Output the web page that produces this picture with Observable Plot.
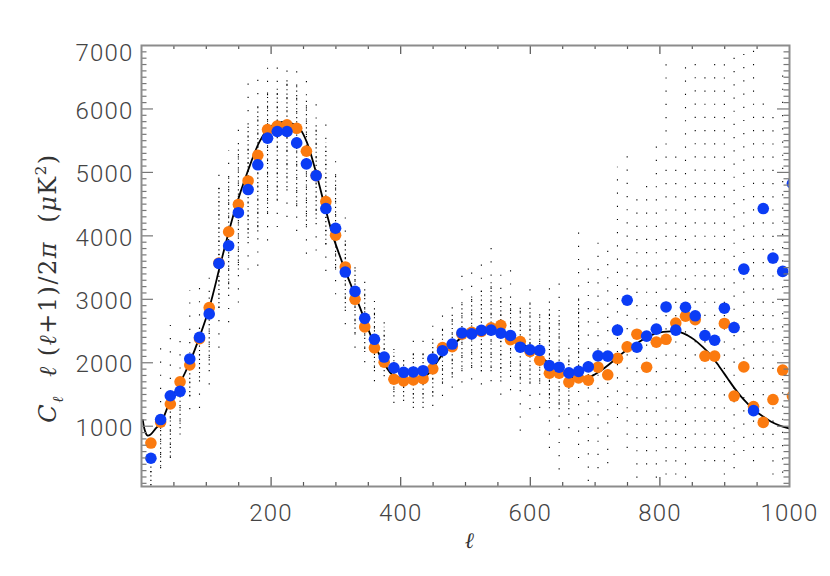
<!DOCTYPE html>
<html><head><meta charset="utf-8">
<script src="https://cdn.jsdelivr.net/npm/d3@7"></script>
<script src="https://cdn.jsdelivr.net/npm/@observablehq/plot@0.6"></script>
<style>body{margin:0;background:#fff} svg{display:block}</style>
</head><body><div id="chart"></div>
<script>
// Bin centres (multipole ℓ)
const ells = [14.5,29.5,44.5,59.5,74.5,89.5,104.5,119.5,134.5,149.5,164.5,179.5,194.5,209.5,224.5,239.5,254.5,269.5,284.5,299.5,314.5,329.5,344.5,359.5,374.5,389.5,404.5,419.5,434.5,449.5,464.5,479.5,494.5,509.5,524.5,539.5,554.5,569.5,584.5,599.5,614.5,629.5,644.5,659.5,674.5,689.5,704.5,719.5,734.5,749.5,764.5,779.5,794.5,809.5,824.5,839.5,854.5,869.5,884.5,899.5,914.5,929.5,944.5,959.5,974.5,989.5,1004.5];
// Blue binned spectrum
const blueVals = [495,1105,1480,1550,2060,2400,2770,3565,3845,4365,
  4730,5120,5540,5645,5645,5465,5135,4950,4430,4120,
  3430,3125,2700,2370,2090,1920,1850,1855,1875,2060,
  2190,2295,2470,2455,2510,2515,2465,2430,2245,2205,
  2195,1955,1930,1840,1865,1935,2110,2105,2515,2985,
  2245,2420,2530,2880,2515,2875,2740,2430,2355,2860,
  2555,3475,1245,4430,3650,3440,4825];
// Orange binned spectrum
const orangeVals = [735,1065,1350,1700,1965,2380,2870,3570,4065,4495,
  4865,5270,5675,5730,5750,5695,5335,4950,4540,4010,
  3510,3000,2565,2235,2010,1740,1715,1730,1750,1905,
  2240,2255,2450,2480,2495,2550,2590,2365,2335,2180,
  2040,1835,1835,1695,1760,1725,1930,1810,2070,2250,
  2450,1930,2325,2370,2625,2735,2680,2105,2105,2620,
  1475,1935,1310,1060,1420,1885,1475];
// Model curve
const curveL = [2,5,9,14,22,30,44,60,75,90,105,121,132,145,163,182,197,210,222,235,245,255,268,282,296,312,325,336,351,366,387,400,418,430,441,464,480,495,510,526,536,550,567,583,598,613,629,645,660,675,688,700,714,727,739,752,765,780,796,816,832,843,853,866,878,891,904,915,925,935,945,958,971,985,999];
const curveV = [1100,940,855,870,965,1055,1390,1690,2020,2420,2880,3520,3960,4440,4990,5480,5705,5775,5795,5760,5680,5480,5050,4500,3980,3520,3180,2900,2500,2150,1810,1760,1745,1765,1810,2125,2280,2400,2465,2495,2505,2480,2415,2330,2230,2110,1995,1880,1785,1750,1760,1820,1915,2020,2125,2225,2310,2400,2470,2495,2480,2430,2365,2250,2125,1950,1760,1600,1470,1360,1260,1160,1075,1010,965];
// Scatter of individual measurements per bin: full extent and dense core
const sparseLo = [60,330,490,860,1260,1280,1650,2230,2630,2940,3460,3520,3920,4130,4290,4070,3710,3760,3440,3070,2600,2230,2000,1700,1780,1360,1390,1280,1280,1310,1470,1600,1680,1730,1650,1700,1490,1560,920,1260,1280,650,310,960,490,130,330,410,1120,650,180,390,180,230,230,180,650,440,440,230,330,600,440,650,230,260,260];
const sparseHi = [860,2290,2630,2510,3140,3340,3390,5050,5340,5810,6580,6550,6710,6760,6710,6760,6550,6100,5870,5340,4340,3660,3360,3130,2730,2360,2180,2440,2360,2650,2790,2890,3440,3470,3600,3900,3420,3570,2940,3340,2940,3310,3240,2340,4210,3600,3970,3890,5080,5290,4660,4820,5500,6860,5290,6710,6760,6600,6890,6860,6920,6940,6920,6260,6020,6660,4960];
const denseLo = [60,360,510,960,1460,1760,1960,2860,3160,3460,3960,4060,4360,4560,4760,4460,4160,4260,3860,3460,2860,2460,2160,1860,1860,1460,1460,1360,1360,1460,1660,1760,1860,1910,1860,1860,1760,1860,1660,1660,1660,1360,1260,1260,1860];
const denseHi = [560,1110,1310,1660,2160,2560,3060,4760,4960,5360,5760,6060,6260,6360,6460,6360,6160,5760,5460,4960,3960,3460,3160,2860,2560,2160,2060,2160,2160,2360,2560,2760,2960,3060,3160,3260,3060,2960,2860,2960,2760,2860,2760,2160,3020];
// Axis ticks
const xLabels = [200,400,600,800,1000];
const xMajor = [200,400,600,800];
const xMinor = [50,100,150,250,300,350,450,500,550,650,700,750,850,900,950];
const yLabels = [1000,2000,3000,4000,5000,6000,7000];
const yMajor = [1000,2000,3000,4000,5000,6000];
const yMinor = [100,200,300,400,500,600,700,800,900,1100,1200,1300,1400,1500,1600,1700,1800,1900,2100,2200,2300,2400,2500,2600,2700,2800,2900,3100,3200,3300,3400,3500,3600,3700,3800,3900,4100,4200,4300,4400,4500,4600,4700,4800,4900,5100,5200,5300,5400,5500,5600,5700,5800,5900,6100,6200,6300,6400,6500,6600,6700,6800,6900];

const W = 830, H = 576, mL = 141, mR = 41, mT = 45, mB = 90;
const pw = W - mL - mR, ph = H - mT - mB;
const binned = ells.map((l, i) => ({l, b: blueVals[i], o: orangeVals[i]}));
const curve = curveL.map((l, i) => ({l, v: curveV[i]}));
const cols = ells.map((l, i) => ({l, slo: sparseLo[i], shi: sparseHi[i], dlo: denseLo[i], dhi: denseHi[i]}));
const dense = cols.filter(d => d.dlo != null);
const font = "Roboto, 'Open Sans', sans-serif";
const tickCol = "#555";
const lab = {fontSize: 24, fontWeight: 300, fill: "#444"};

const plot = Plot.plot({
  width: W, height: H,
  marginLeft: mL, marginRight: mR, marginTop: mT, marginBottom: mB,
  x: {domain: [0, 1000], axis: null},
  y: {domain: [50, 7000], axis: null},
  style: {fontFamily: font, background: "white", overflow: "visible", letterSpacing: "1.2px"},
  marks: [
    Plot.ruleX(cols, {x: "l", y1: "slo", y2: "shi", stroke: "black", strokeWidth: 1.1, strokeDasharray: "1.2,12", clip: true}),
    Plot.ruleX(dense, {x: "l", y1: "dlo", y2: "dhi", stroke: "black", strokeWidth: 1.1, strokeDasharray: "1.2,3.2", clip: true}),
    Plot.line(curve, {x: "l", y: "v", curve: "catmull-rom", stroke: "black", strokeWidth: 1.8}),
    Plot.dot(binned, {x: "l", y: "o", r: 5.8, fill: "#fb7a0f", clip: true}),
    Plot.dot(binned, {x: "l", y: "b", r: 5.8, fill: "#0b3cf5", clip: true}),
    // ticks (inward, mirrored)
    Plot.tickX(xMajor, {x: d => d, insetTop: ph - 9, stroke: tickCol, strokeWidth: 1.2}),
    Plot.tickX(xMinor, {x: d => d, insetTop: ph - 4, stroke: tickCol, strokeWidth: 1.2}),
    Plot.tickX(xMajor, {x: d => d, insetBottom: ph - 9, stroke: tickCol, strokeWidth: 1.2}),
    Plot.tickX(xMinor, {x: d => d, insetBottom: ph - 4, stroke: tickCol, strokeWidth: 1.2}),
    Plot.tickY(yMajor, {y: d => d, insetRight: pw - 12, stroke: "#777", strokeWidth: 1.2}),
    Plot.tickY(yMinor, {y: d => d, insetRight: pw - 5.5, stroke: "#777", strokeWidth: 1.2}),
    Plot.tickY(yMajor, {y: d => d, insetLeft: pw - 12, stroke: "#777", strokeWidth: 1.2}),
    Plot.tickY(yMinor, {y: d => d, insetLeft: pw - 5.5, stroke: "#777", strokeWidth: 1.2}),
    Plot.frame({stroke: "#8c8c8c", strokeWidth: 2}),
    // tick labels
    Plot.text(xLabels, {x: d => d, frameAnchor: "bottom", dy: 27, text: d => String(d), lineAnchor: "middle", ...lab}),
    Plot.text(yLabels.filter(d => d < 7000), {y: d => d, frameAnchor: "left", dx: -8, dy: 2, textAnchor: "end", text: d => String(d), ...lab}),
    Plot.text(yLabels.filter(d => d === 7000), {y: d => d, frameAnchor: "left", dx: -8, dy: 8, textAnchor: "end", text: d => String(d), ...lab})
  ]
});

const svg = d3.select(plot);
// y axis title
const yt = svg.append("text")
  .attr("transform", "translate(56,288) rotate(-90)")
  .attr("text-anchor", "middle")
  .attr("fill", "#333")
  .style("font-family", "'DejaVu Serif', serif")
  .style("font-size", "24px")
  .style("letter-spacing", "1.5px");
yt.append("tspan").style("font-style", "italic").text("C");
yt.append("tspan").attr("dy", 7).style("font-style", "italic").style("font-size", "15px").text("ℓ");
yt.append("tspan").attr("dy", -7).style("font-style", "italic").text("  ℓ ");
yt.append("tspan").text("(");
yt.append("tspan").style("font-style", "italic").text("ℓ");
yt.append("tspan").text("+1)/2");
yt.append("tspan").style("font-style", "italic").text("π");
yt.append("tspan").text("  (");
yt.append("tspan").style("font-style", "italic").text("μ");
yt.append("tspan").text("K");
yt.append("tspan").attr("dy", -10).style("font-size", "15px").text("2");
yt.append("tspan").attr("dy", 10).text(")");
// x axis title
svg.append("text")
  .attr("x", 470).attr("y", 548)
  .attr("text-anchor", "middle")
  .attr("fill", "#333")
  .style("font-family", "'DejaVu Serif', serif")
  .style("font-style", "italic")
  .style("font-size", "22px")
  .text("ℓ");

document.getElementById("chart").appendChild(plot);
</script>
</body></html>
